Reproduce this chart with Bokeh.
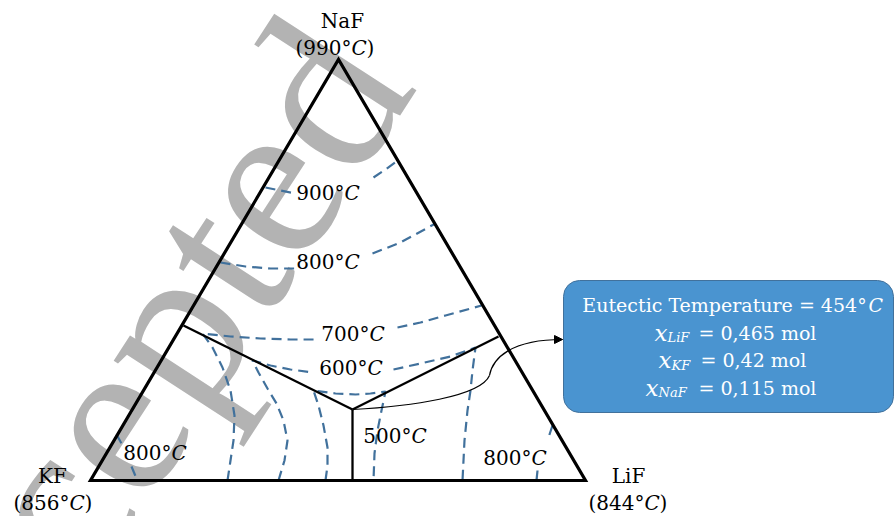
from bokeh.plotting import figure
from bokeh.models import Range1d, Arrow, NormalHead
from bokeh.core.properties import value
from bokeh.embed import file_html
from bokeh.resources import INLINE

# ---------------- data (pixel-like diagram coordinates, y grows downward) -------------
VERT_NAMES = ["KF", "LiF", "NaF"]
VERT_TEMPS = ["856", "844", "990"]
VERT_X = [90, 585, 338]
VERT_Y = [480, 480, 59]
VERT_LABEL_X = [52, 628, 342]
VERT_LABEL_BASE = [475, 475, 20]
VERT_TEMP_SPLIT = [69, 644, 351]
VERT_TEMP_BASE = [502, 502, 47]

# primary-field boundaries meeting at the eutectic point
EUT_X, EUT_Y = 352, 409
BOUND_X = [[183, EUT_X], [498, EUT_X], [EUT_X, EUT_X]]
BOUND_Y = [[325, EUT_Y], [336, EUT_Y], [480, EUT_Y]]

# isotherm segments (dashed)
ISO_X = [
    [265, 280, 295],
    [373, 385, 396],
    [220, 245, 270, 295],
    [372, 400, 435],
    [227, 230, 233, 234, 230, 222, 212, 202, 230, 260, 290, 317],
    [397, 420, 445, 481],
    [278, 284, 287, 283, 276, 267, 258, 252, 270, 290, 313],
    [393, 420, 450, 475, 472, 470, 467, 464, 462],
    [325, 327, 327, 323, 318, 313, 335, 355, 370, 385, 381, 377, 374, 373],
    [116, 121],
    [131, 136],
    [552, 547],
    [537, 536],
]
ISO_Y = [
    [187, 190, 193],
    [177, 169, 161],
    [262, 266, 268, 268],
    [253, 242, 223],
    [480, 460, 440, 415, 390, 367, 347, 333, 336, 338, 339, 339],
    [327, 322, 315, 305],
    [480, 460, 440, 420, 403, 388, 372, 360, 365, 369, 372],
    [369, 363, 356, 347, 370, 390, 410, 440, 480],
    [480, 465, 447, 425, 405, 390, 393, 394, 393, 391, 410, 430, 453, 480],
    [434, 443],
    [466, 478],
    [425, 440],
    [470, 480],
]

ISO_LABEL_TEMP = ["900", "800", "700", "600", "500", "800", "800"]
ISO_LABEL_SPLIT = [344, 344, 369, 367, 411, 171, 531]
ISO_LABEL_BASE = [192, 261, 333, 367, 435, 452, 457]

# eutectic information box
EUT_TEMP = "454"
COMP_NAMES = ["LiF", "KF", "NaF"]
COMP_VALUES = ["0,465", "0,42", "0,115"]
BOX_LEFT, BOX_RIGHT, BOX_TOP, BOX_BOTTOM = 563, 893, 280, 412
BOX_CENTER_X = 732
BOX_LINE_BASE = [304, 332, 359.5, 387]
COMP_SUB_X = [667, 671, 658]
COMP_EQ_X = [698, 700, 698]

# curved pointer from eutectic point to box (two cubic Bezier pieces)
BEZ_X0 = [EUT_X, 489]
BEZ_Y0 = [EUT_Y, 375]
BEZ_CX0 = [410, 492]
BEZ_CY0 = [406, 358]
BEZ_CX1 = [480, 510]
BEZ_CY1 = [396, 339]
BEZ_X1 = [489, BOX_LEFT - 1]
BEZ_Y1 = [375, 339]

WATERMARK = "Accepted"
WM_X, WM_Y, WM_ANGLE = 113, 412, 57

# ---------------- styling ----------------
FONT = value("DejaVu Serif")
FS = "20px"
ISO_COLOR = "#41719c"
BOX_FILL = "#4a94d0"

p = figure(width=895, height=516, x_range=Range1d(0, 895), y_range=Range1d(516, 0),
           output_backend="svg", toolbar_location=None, min_border=0,
           x_axis_location=None, y_axis_location=None, outline_line_color=None)
p.grid.visible = False
p.background_fill_color = "white"
p.border_fill_color = "white"

# watermark
p.text(x=[WM_X], y=[WM_Y], text=[WATERMARK], angle=WM_ANGLE, angle_units="deg",
       text_align="center", text_baseline="alphabetic",
       text_font=value("Liberation Serif"), text_font_size="232px", text_color="#b3b3b3")

# isotherms
p.multi_line(xs=ISO_X, ys=ISO_Y, line_color=ISO_COLOR, line_width=2.2, line_dash="10 6")

# triangle
p.patch(VERT_X, VERT_Y, fill_color=None, line_color="black", line_width=3.2, line_join="miter")
# boundaries
p.multi_line(xs=BOUND_X, ys=BOUND_Y, line_color="black", line_width=2.3)

# pointer
p.bezier(x0=BEZ_X0, y0=BEZ_Y0, x1=BEZ_X1, y1=BEZ_Y1, cx0=BEZ_CX0, cy0=BEZ_CY0,
         cx1=BEZ_CX1, cy1=BEZ_CY1, line_color="black", line_width=1.2)
p.add_layout(Arrow(end=NormalHead(size=8, fill_color="black", line_color="black"),
                   x_start=BEZ_X1[-1] - 6, y_start=BEZ_Y1[-1], x_end=BEZ_X1[-1], y_end=BEZ_Y1[-1],
                   line_color="black", line_width=1.2))

# vertex labels
p.text(x=VERT_LABEL_X, y=VERT_LABEL_BASE, text=VERT_NAMES, text_align="center",
       text_baseline="alphabetic", text_font=FONT, text_font_size=FS, text_color="black")
p.text(x=VERT_TEMP_SPLIT, y=VERT_TEMP_BASE, text=["(" + t + "°" for t in VERT_TEMPS],
       text_align="right", text_baseline="alphabetic", text_font=FONT, text_font_size=FS)
p.text(x=VERT_TEMP_SPLIT, y=VERT_TEMP_BASE, text=["C"] * 3, text_align="left",
       text_baseline="alphabetic", text_font=FONT, text_font_size=FS, text_font_style="italic")
p.text(x=[s + 15 for s in VERT_TEMP_SPLIT], y=VERT_TEMP_BASE, text=[")"] * 3, text_align="left",
       text_baseline="alphabetic", text_font=FONT, text_font_size=FS)

# isotherm labels
p.text(x=ISO_LABEL_SPLIT, y=ISO_LABEL_BASE, text=[t + "°" for t in ISO_LABEL_TEMP],
       text_align="right", text_baseline="alphabetic", text_font=FONT, text_font_size=FS)
p.text(x=ISO_LABEL_SPLIT, y=ISO_LABEL_BASE, text=["C"] * len(ISO_LABEL_TEMP), text_align="left",
       text_baseline="alphabetic", text_font=FONT, text_font_size=FS, text_font_style="italic")

# info box
p.quad(left=[BOX_LEFT], right=[BOX_RIGHT], top=[BOX_TOP], bottom=[BOX_BOTTOM],
       fill_color=BOX_FILL, line_color="#41719c", line_width=1, border_radius=16)
p.text(x=[BOX_CENTER_X - 8], y=[BOX_LINE_BASE[0]], text=["Eutectic Temperature = " + EUT_TEMP + "°"],
       text_align="center", text_baseline="alphabetic", text_font=FONT, text_font_size="19px",
       text_color="white")
p.text(x=[BOX_CENTER_X + 136], y=[BOX_LINE_BASE[0]], text=["C"], text_align="left",
       text_baseline="alphabetic", text_font=FONT, text_font_size="19px", text_font_style="italic",
       text_color="white")
p.text(x=COMP_SUB_X, y=BOX_LINE_BASE[1:], text=["x"] * 3, text_align="right",
       text_baseline="alphabetic", text_font=FONT, text_font_size="23px",
       text_font_style="italic", text_color="white")
p.text(x=COMP_SUB_X, y=[b + 5 for b in BOX_LINE_BASE[1:]], text=COMP_NAMES, text_align="left",
       text_baseline="alphabetic", text_font=FONT, text_font_size="13px",
       text_font_style="italic", text_color="white")
p.text(x=COMP_EQ_X, y=BOX_LINE_BASE[1:], text=["= " + v + " mol" for v in COMP_VALUES],
       text_align="left", text_baseline="alphabetic", text_font=FONT, text_font_size="19px",
       text_color="white")

open("out.html", "w").write(file_html(p, INLINE))
